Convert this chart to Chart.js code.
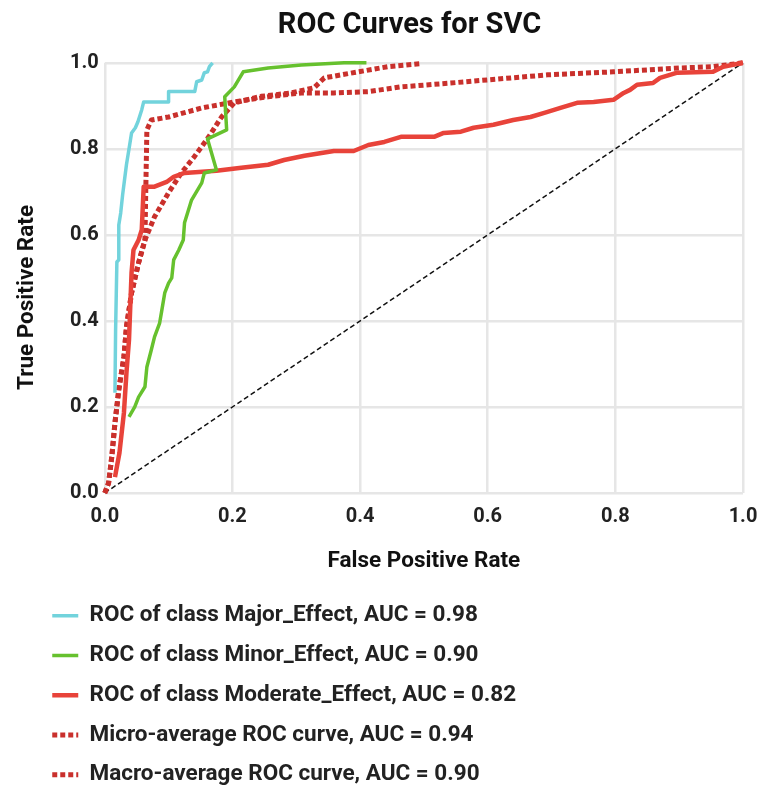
<!DOCTYPE html>
<html>
<head>
<meta charset="utf-8">
<script src="https://cdn.jsdelivr.net/npm/chart.js@4.4.1/dist/chart.umd.min.js"></script>
<style>
  body { margin: 0; background: #fff; }
  #wrap { width: 781px; height: 792px; }
</style>
</head>
<body>
<div id="wrap"><canvas id="roc"></canvas></div>
<script>
const majorFpr = [0.016, 0.017, 0.019, 0.022, 0.022, 0.025, 0.028, 0.031, 0.034, 0.039, 0.042, 0.048, 0.052, 0.058, 0.061, 0.100, 0.100, 0.141, 0.144, 0.152, 0.156, 0.161, 0.164, 0.169];
const majorTpr = [0.233, 0.379, 0.537, 0.542, 0.623, 0.651, 0.693, 0.728, 0.763, 0.809, 0.837, 0.849, 0.863, 0.891, 0.909, 0.909, 0.933, 0.933, 0.956, 0.960, 0.977, 0.979, 0.991, 1.000];

const minorFpr = [0.038, 0.047, 0.053, 0.063, 0.066, 0.073, 0.078, 0.086, 0.089, 0.094, 0.100, 0.105, 0.108, 0.116, 0.123, 0.125, 0.136, 0.152, 0.156, 0.175, 0.161, 0.191, 0.188, 0.203, 0.217, 0.256, 0.308, 0.375, 0.410];
const minorTpr = [0.177, 0.200, 0.223, 0.247, 0.293, 0.333, 0.363, 0.395, 0.421, 0.465, 0.488, 0.500, 0.542, 0.565, 0.588, 0.628, 0.681, 0.721, 0.744, 0.751, 0.823, 0.844, 0.921, 0.944, 0.979, 0.988, 0.995, 1.000, 1.000];

const moderateFpr = [0.016, 0.023, 0.030, 0.034, 0.038, 0.042, 0.045, 0.053, 0.058, 0.061, 0.078, 0.097, 0.108, 0.125, 0.175, 0.214, 0.256, 0.281, 0.313, 0.359, 0.390, 0.413, 0.438, 0.464, 0.516, 0.531, 0.558, 0.578, 0.609, 0.640, 0.667, 0.690, 0.714, 0.740, 0.766, 0.797, 0.813, 0.823, 0.834, 0.859, 0.870, 0.897, 0.953, 0.969, 1.000];
const moderateTpr = [0.037, 0.093, 0.186, 0.279, 0.356, 0.512, 0.565, 0.588, 0.612, 0.712, 0.712, 0.723, 0.735, 0.744, 0.749, 0.756, 0.763, 0.774, 0.784, 0.795, 0.795, 0.809, 0.816, 0.828, 0.828, 0.837, 0.840, 0.849, 0.856, 0.867, 0.874, 0.884, 0.895, 0.907, 0.909, 0.914, 0.930, 0.937, 0.949, 0.953, 0.965, 0.977, 0.979, 0.991, 1.000];

const microFpr = [0.000, 0.006, 0.011, 0.016, 0.022, 0.030, 0.034, 0.042, 0.053, 0.063, 0.078, 0.100, 0.120, 0.140, 0.163, 0.183, 0.203, 0.245, 0.292, 0.328, 0.344, 0.397, 0.444, 0.495];
const microTpr = [0.000, 0.023, 0.084, 0.163, 0.240, 0.316, 0.386, 0.465, 0.535, 0.588, 0.642, 0.698, 0.744, 0.781, 0.828, 0.874, 0.907, 0.922, 0.930, 0.942, 0.965, 0.979, 0.991, 0.998];

const macroFpr = [0.000, 0.006, 0.011, 0.016, 0.022, 0.030, 0.034, 0.042, 0.053, 0.063, 0.064, 0.066, 0.073, 0.100, 0.152, 0.203, 0.256, 0.308, 0.359, 0.413, 0.464, 0.542, 0.694, 0.797, 0.902, 0.953, 1.000];
const macroTpr = [0.000, 0.023, 0.084, 0.163, 0.240, 0.316, 0.386, 0.465, 0.535, 0.588, 0.681, 0.844, 0.867, 0.874, 0.895, 0.909, 0.921, 0.930, 0.930, 0.933, 0.944, 0.953, 0.972, 0.979, 0.988, 0.991, 1.000];

const chanceFpr = [0, 1];
const chanceTpr = [0, 1];

const seriesNames = [
  'ROC of class Major_Effect, AUC = 0.98',
  'ROC of class Minor_Effect, AUC = 0.90',
  'ROC of class Moderate_Effect, AUC = 0.82',
  'Micro-average ROC curve, AUC = 0.94',
  'Macro-average ROC curve, AUC = 0.90'
];
const axisTicks = [0, 0.2, 0.4, 0.6, 0.8, 1.0];

function pts(xs, ys) {
  return xs.map((x, i) => ({x: x, y: ys[i]}));
}

function curve(label, xs, ys, color, width, dash) {
  return {
    label: label,
    data: pts(xs, ys),
    borderColor: color,
    backgroundColor: color,
    borderWidth: width,
    borderDash: dash || [],
    borderCapStyle: 'butt',
    borderJoinStyle: 'round',
    showLine: true,
    pointRadius: 0,
    pointHoverRadius: 0,
    pointStyle: 'line',
    tension: 0,
    clip: 8
  };
}

Chart.defaults.font.family = 'Roboto';
Chart.defaults.color = '#222';

// title and legend sit a bit off the default spots in the original
const blockShift = {
  id: 'blockShift',
  afterLayout(chart) {
    if (chart.legend) {
      chart.legend.left = 35;
      chart.legend.top += 4;
    }
    if (chart.titleBlock) chart.titleBlock.left = 76;
  }
};

new Chart(document.getElementById('roc'), {
  type: 'scatter',
  plugins: [blockShift],
  data: {
    datasets: [
      curve(seriesNames[0], majorFpr, majorTpr, '#72d3dc', 3.5),
      curve(seriesNames[1], minorFpr, minorTpr, '#66c12e', 3.5),
      curve(seriesNames[2], moderateFpr, moderateTpr, '#e8433a', 4.5),
      curve(seriesNames[3], microFpr, microTpr, '#c9302c', 5, [5, 3]),
      curve(seriesNames[4], macroFpr, macroTpr, '#c9302c', 5, [5, 3]),
      curve('chance', chanceFpr, chanceTpr, '#111', 1.5, [5, 3])
    ]
  },
  options: {
    responsive: true,
    maintainAspectRatio: false,
    animation: false,
    layout: { padding: { right: 38 } },
    plugins: {
      tooltip: { enabled: false },
      title: {
        display: true,
        text: 'ROC Curves for SVC',
        color: '#111',
        font: { size: 29, weight: 'bold' },
        padding: { top: 8, bottom: 20 }
      },
      legend: {
        position: 'bottom',
        align: 'start',
        labels: {
          usePointStyle: true,
          pointStyleWidth: 26,
          padding: 17.25,
          color: '#222',
          font: { size: 22.5, weight: 'bold' },
          generateLabels(chart) {
            const items = Chart.defaults.plugins.legend.labels.generateLabels(chart);
            items.forEach(it => {
              const ds = chart.data.datasets[it.datasetIndex];
              it.lineDash = ds.borderDash;
              it.lineWidth = ds.borderWidth;
              it.strokeStyle = ds.borderColor;
            });
            return items;
          },
          filter: item => item.text !== 'chance'
        }
      }
    },
    scales: {
      x: {
        type: 'linear',
        min: 0,
        max: 1,
        afterBuildTicks: s => { s.ticks = axisTicks.map(v => ({value: v})); },
        ticks: {
          padding: 12,
          color: '#222',
          font: { size: 20, weight: 'bold' },
          callback: v => v.toFixed(1)
        },
        grid: { color: '#e6e6e6', lineWidth: 2.5, drawTicks: false },
        border: { display: false },
        title: {
          display: true,
          text: 'False Positive Rate',
          color: '#111',
          font: { size: 22.5, weight: 'bold' },
          padding: { top: 6.5, bottom: 8.75 }
        }
      },
      y: {
        type: 'linear',
        min: 0,
        max: 1,
        afterBuildTicks: s => { s.ticks = axisTicks.map(v => ({value: v})); },
        ticks: {
          padding: 6,
          color: '#222',
          font: { size: 20, weight: 'bold' },
          callback: v => v.toFixed(1)
        },
        grid: { color: '#e6e6e6', lineWidth: 2.5, drawTicks: false },
        border: { display: false },
        title: {
          display: true,
          // trailing spaces nudge the label down, as in the original
          text: 'True Positive Rate\u00a0\u00a0\u00a0\u00a0\u00a0\u00a0\u00a0',
          color: '#111',
          font: { size: 22.5, weight: 'bold' },
          padding: { top: 14, bottom: 23 }
        }
      }
    }
  }
});
</script>
</body>
</html>
